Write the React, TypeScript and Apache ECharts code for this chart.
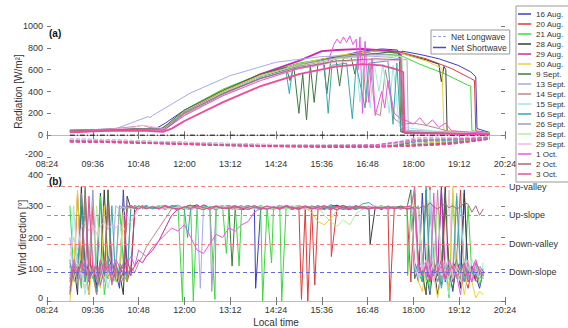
import React, { useEffect, useRef } from 'react';
import * as echarts from 'echarts';

const days = ['16 Aug.', '20 Aug.', '21 Aug.', '28 Aug.', '29 Aug.', '30 Aug.', '9 Sept.', '13 Sept.', '14 Sept.', '15 Sept.', '16 Sept.', '26 Sept.', '28 Sept.', '29 Sept.', '1 Oct.', '2 Oct.', '3 Oct.'];

// Net shortwave radiation [minutes since midnight, W/m2]
const shortwave: number[][][] = [
  [[540,35],[600,45],[650,55],[675,60],[690,110],[720,230],[780,400],[840,540],[900,640],[960,720],[1000,770],[1030,790],[1055,780],[1058,700],[1062,770],[1090,740],[1120,700],[1150,640],[1170,580],[1178,535],[1180,60],[1200,25]],
  [[540,40],[600,50],[650,55],[680,50],[700,120],[720,210],[780,390],[840,530],[900,640],[960,720],[1020,775],[1060,760],[1100,700],[1140,610],[1170,520],[1176,500],[1178,40],[1200,20]],
  [[540,30],[600,45],[660,50],[685,55],[720,230],[780,420],[840,560],[900,660],[960,720],[1020,750],[1060,730],[1090,650],[1130,560],[1165,460],[1170,450],[1172,40],[1200,20]],
  [[540,45],[600,55],[660,60],[690,60],[720,200],[780,380],[840,530],[900,640],[960,720],[1020,770],[1060,750],[1100,690],[1120,650],[1124,490],[1128,630],[1131,600],[1133,20],[1200,10]],
  [[540,30],[600,45],[660,50],[686,50],[720,210],[780,400],[840,560],[900,680],[936,770],[960,780],[1000,790],[1040,775],[1060,760],[1063,30],[1200,10]],
  [[540,40],[600,50],[660,55],[685,55],[720,220],[780,400],[840,550],[900,650],[960,730],[1020,770],[1060,750],[1100,680],[1125,610],[1128,40],[1200,20]],
  [[540,40],[600,50],[660,55],[684,55],[720,230],[780,410],[840,560],[880,620],[886,500],[892,630],[900,200],[906,560],[912,140],[918,640],[924,300],[930,660],[938,700],[944,380],[950,680],[958,700],[964,450],[970,710],[982,720],[988,560],[994,730],[1010,740],[1040,760],[1058,750],[1060,30],[1200,15]],
  [[540,45],[600,55],[615,65],[663,170],[666,160],[670,180],[729,385],[792,545],[864,668],[936,720],[990,730],[1040,715],[1070,690],[1072,30],[1200,15]],
  [[540,40],[600,55],[645,80],[655,90],[665,70],[690,60],[720,190],[780,370],[840,520],[900,630],[960,700],[1000,720],[1006,300],[1012,640],[1020,200],[1028,180],[1036,600],[1050,150],[1062,100],[1080,110],[1100,90],[1120,60],[1140,30],[1200,15]],
  [[540,35],[600,45],[660,50],[690,55],[720,200],[780,380],[840,530],[900,620],[960,680],[990,690],[996,300],[1002,660],[1012,250],[1018,670],[1026,400],[1032,650],[1042,200],[1048,640],[1058,80],[1080,60],[1110,40],[1200,15]],
  [[540,45],[600,50],[660,55],[688,55],[720,210],[780,380],[840,520],[880,580],[885,380],[890,600],[940,650],[946,200],[952,640],[975,660],[984,150],[990,650],[1004,250],[1010,660],[1040,680],[1048,100],[1054,660],[1060,50],[1080,40],[1200,15]],
  [[540,40],[600,50],[660,55],[686,55],[720,210],[780,390],[840,540],[900,650],[960,710],[1020,740],[1060,730],[1066,40],[1200,15]],
  [[540,30],[600,45],[660,50],[688,50],[720,200],[780,390],[840,540],[900,640],[960,700],[1020,730],[1062,720],[1068,35],[1200,15]],
  [[540,35],[600,50],[640,70],[650,90],[660,85],[690,60],[720,180],[780,360],[840,510],[900,610],[960,670],[1020,690],[1060,680],[1064,40],[1200,15]],
  [[540,30],[600,45],[660,50],[688,45],[720,180],[780,360],[840,500],[900,610],[945,660],[955,830],[960,880],[965,840],[970,900],[975,850],[980,910],[985,830],[990,880],[993,600],[996,900],[1000,200],[1004,860],[1010,300],[1015,700],[1020,180],[1030,400],[1035,250],[1040,500],[1050,200],[1060,150],[1070,130],[1080,100],[1090,160],[1100,90],[1110,140],[1120,70],[1130,110],[1140,40],[1200,15]],
  [[540,40],[600,50],[660,55],[690,55],[720,200],[780,380],[840,520],[900,620],[960,680],[1020,700],[1060,690],[1064,30],[1200,10]],
  [[540,25],[600,40],[660,40],[686,30],[700,60],[720,130],[780,300],[840,450],[900,560],[960,630],[1000,650],[1030,640],[1055,600],[1064,577],[1066,20],[1200,5]],
];

// Net longwave radiation
const lwTimes = [540, 600, 660, 720, 780, 840, 900, 960, 1020, 1050, 1080, 1110, 1140, 1170, 1200];
const longwave: number[][] = [
  [-45,-50,-60,-70,-80,-90,-95,-98,-100,-95,-60,-45,-40,-35,-20],
  [-50,-55,-65,-75,-85,-92,-98,-100,-102,-100,-90,-75,-60,-45,-25],
  [-40,-48,-58,-70,-82,-90,-96,-98,-100,-95,-80,-65,-55,-40,-20],
  [-55,-60,-70,-80,-90,-98,-102,-104,-104,-100,-95,-85,-70,-50,-30],
  [-60,-65,-72,-82,-92,-100,-105,-108,-106,-102,-95,-88,-75,-55,-30],
  [-45,-52,-62,-72,-84,-92,-98,-100,-100,-96,-85,-70,-58,-45,-25],
  [-50,-55,-64,-74,-86,-94,-98,-95,-100,-96,-60,-40,-35,-30,-20],
  [-35,-42,-55,-65,-75,-85,-90,-92,-90,-70,-30,-20,-25,-30,-20],
  [-55,-58,-66,-76,-86,-94,-100,-102,-95,-70,-55,-45,-40,-35,-25],
  [-40,-48,-60,-72,-82,-90,-96,-92,-95,-80,-45,-35,-30,-28,-20],
  [-50,-56,-66,-78,-88,-96,-100,-98,-100,-90,-60,-50,-45,-40,-25],
  [-48,-54,-64,-74,-84,-92,-97,-99,-98,-85,-55,-45,-40,-32,-22],
  [-42,-50,-60,-70,-80,-88,-94,-96,-96,-80,-40,-30,-28,-25,-18],
  [-38,-46,-58,-68,-78,-86,-92,-94,-94,-75,-35,-25,-22,-20,-15],
  [-52,-58,-68,-78,-88,-96,-100,-95,-90,-70,-45,-40,-35,-30,-20],
  [-56,-60,-70,-80,-90,-97,-102,-104,-102,-98,-90,-80,-70,-55,-35],
  [-60,-66,-74,-84,-94,-102,-106,-108,-108,-104,-98,-92,-80,-60,-35],
];

const zeroLine = [[540, 0], [1200, 0]];

// Wind direction [deg]
const windTimesMorning = [540,546,552,558,564,570,576,582,588,594,600,606,612,618,624,630,636,642,648,654,660];
const windTimesMidday = [670,680,690,700,710,720,730,740,750,760,770,780,790,800,810,820,830,840,850,860,870,880,890,900,910,920,930,940,950,960,970,980,990,1000,1010,1020,1030,1040,1050,1060,1070];
const windTimesEvening = [1076,1082,1088,1094,1100,1106,1112,1118,1124,1130,1136,1142,1148,1154,1160,1166,1172,1178,1184,1190];

const windMorning: number[][] = [
  [20,110,80,300,60,130,90,50,340,100,70,120,90,40,350,95,80,300,290,295,300],
  [130,60,340,90,110,20,300,80,100,60,350,120,70,90,300,60,110,280,296,300,292],
  [300,90,120,40,350,100,70,130,330,20,110,60,90,300,120,60,300,295,290,300,295],
  [70,120,20,360,90,60,110,40,80,350,100,130,60,90,20,330,290,300,296,290,298],
  [90,110,70,130,100,80,120,60,100,90,140,110,80,120,100,130,90,110,130,120,140],
  [0,100,350,60,90,20,120,80,40,300,70,110,90,60,280,300,295,290,300,296,292],
  [110,60,90,130,300,80,100,20,120,70,350,90,60,110,80,300,292,298,290,296,300],
  [200,90,150,60,110,300,130,80,100,60,120,90,300,290,295,300,292,297,290,295,300],
  [40,130,90,60,320,100,80,20,110,70,130,50,90,100,60,80,110,90,120,140,170],
  [60,300,100,90,20,120,350,80,60,110,40,100,90,300,295,290,300,292,296,290,295],
  [120,70,90,340,60,110,100,30,130,80,90,300,60,120,100,80,300,296,290,300,294],
  [90,110,60,120,100,80,350,60,90,130,110,70,100,300,290,296,300,293,290,297,292],
  [100,60,120,90,40,110,80,300,130,70,100,90,60,120,280,295,290,300,293,297,290],
  [140,200,160,230,250,220,240,210,235,250,225,240,230,245,220,240,250,270,290,296,292],
  [80,120,100,90,130,60,110,100,80,120,90,100,130,110,90,120,140,110,160,150,140],
  [30,100,80,120,360,70,90,110,50,100,300,80,120,60,90,300,296,290,300,294,290],
  [60,110,90,120,80,330,100,70,130,90,110,60,100,90,120,290,300,294,290,297,292],
];

const windMidday: number[][] = [
  [292,298,288,301,295,290,297,303,289,294,299,291,296,300,287,293,297,292,296,290,301,294,288,297,292,299,295,290,303,296,289,294,300,292,297,291,295,298,290,294,296],
  [294,300,289,296,302,291,297,290,303,295,288,296,292,299,290,297,293,300,291,295,289,296,292,295,292,297,288,291,296,291,299,293,290,297,292,296,290,293,294,298,291],
  [293,298,301,290,296,292,295,296,297,292,291,298,290,295,294,293,299,291,296,290,293,297,292,297,291,299,293,288,296,301,292,295,290,298,293,296,291,299,294,290,294],
  [295,290,299,293,287,296,302,291,294,298,290,296,301,292,288,295,299,293,290,297,291,300,294,289,296,293,299,290,295,302,292,288,296,291,298,294,289,297,292,295,290],
  [160,190,230,270,290,296,290,300,294,288,297,292,299,290,295,301,293,288,296,292,299,294,290,297,291,295,300,293,288,296,292,299,294,290,296,292,297,291,295,290,296],
  [297,291,295,300,289,294,298,292,296,290,301,295,289,297,293,299,291,295,288,296,302,293,290,297,292,280,250,240,260,285,296,291,298,293,289,296,292,299,294,290,295],
  [293,298,290,296,301,292,288,295,299,293,290,297,291,295,300,289,294,298,292,296,290,301,295,288,297,292,299,293,290,296,301,292,289,295,298,291,296,290,293,299,295],
  [291,296,300,293,288,297,292,299,294,290,296,301,292,288,295,299,293,290,297,291,295,300,293,289,296,292,299,294,290,297,291,295,300,293,288,296,292,298,294,290,296],
  [200,230,260,290,296,292,300,294,289,296,292,299,293,290,297,291,295,300,293,288,296,292,299,294,290,297,291,295,300,293,288,296,292,298,294,290,296,292,297,291,295],
  [299,292,296,290,301,294,288,297,292,299,293,290,296,300,291,295,289,297,292,299,294,290,296,292,298,293,289,295,300,292,296,290,297,293,299,291,295,290,296,292,298],
  [290,297,292,299,294,288,296,292,300,293,289,296,291,298,294,290,297,293,299,291,295,290,296,301,293,288,296,292,299,294,290,297,292,306,310,295,300,292,297,290,296],
  [296,290,301,294,289,297,292,299,293,290,296,300,292,288,295,299,293,290,297,291,295,300,293,289,296,292,299,294,290,296,292,298,294,290,296,292,297,291,295,290,297],
  [295,300,292,289,296,292,299,293,290,297,291,295,300,293,289,296,292,299,294,290,297,291,295,300,293,289,296,270,250,235,255,240,275,290,296,292,298,293,290,296,292],
  [298,293,289,296,292,299,294,290,297,291,295,300,293,288,296,292,299,294,290,297,291,295,300,293,289,296,292,298,294,290,296,292,297,291,295,300,293,289,296,292,299],
  [170,190,210,230,220,240,200,160,150,180,210,200,230,220,240,250,280,292,290,296,292,299,294,290,297,291,295,300,293,288,296,292,299,294,290,296,292,297,291,295,290],
  [297,292,299,293,290,296,301,292,288,295,299,293,290,297,291,295,300,293,289,296,292,299,294,290,297,291,295,300,293,288,296,292,299,294,290,296,292,297,291,295,290],
  [296,290,300,293,289,296,292,299,294,290,297,291,295,300,293,288,296,292,299,294,290,297,291,295,300,293,289,296,292,298,294,290,296,292,297,291,295,290,296,292,298],
];

// Short drops of the wind direction: [day index, minutes, degrees]
const windSpikes = [
  [2,717,0],[2,734,0],[2,768,5],[2,786,150],[2,806,110],[2,843,0],[2,857,120],[2,873,0],[2,1071,80],
  [0,832,40],
  [1,904,5],[1,914,0],[1,925,50],[1,951,140],[1,1043,0],
  [7,745,40],[11,763,30],[6,795,110],[10,725,200],[3,1012,180],
];

const windEvening: number[][] = [
  [300,110,60,340,90,20,120,80,360,60,100,30,130,90,350,70,110,80,40,95],
  [60,340,100,80,20,360,120,90,50,300,110,70,130,350,80,40,100,60,90,70],
  [290,350,90,60,120,30,300,100,70,130,10,340,90,110,60,300,80,120,50,90],
  [300,290,120,80,350,60,110,20,90,360,70,100,130,40,340,80,110,60,90,100],
  [290,120,90,110,70,100,130,80,350,90,110,60,100,120,80,90,110,70,100,80],
  [295,300,60,30,110,350,80,10,90,120,40,360,70,100,20,90,60,10,30,20],
  [350,70,110,90,20,300,120,60,100,340,80,40,110,90,130,60,100,80,70,90],
  [300,280,100,130,70,320,110,90,60,120,100,80,340,110,70,100,90,120,80,100],
  [300,290,295,120,80,110,60,350,90,100,70,120,90,110,60,80,100,90,110,80],
  [292,300,70,120,90,350,60,110,130,80,20,100,90,300,110,60,130,100,70,120],
  [300,90,120,60,360,100,80,130,40,110,90,70,330,100,60,120,90,80,110,90],
  [296,290,300,110,80,120,90,60,100,130,80,110,70,100,90,120,60,100,80,90],
  [296,300,290,110,60,90,120,300,80,100,70,110,90,60,130,100,80,90,110,70],
  [300,110,70,100,130,90,60,120,80,100,350,70,110,90,100,130,80,60,100,90],
  [290,360,100,80,120,60,340,90,110,70,130,100,80,20,110,90,60,120,100,80],
  [292,298,290,300,294,310,296,290,300,306,294,300,290,296,310,305,280,300,270,290],
  [296,290,120,80,110,60,100,90,130,70,100,110,80,90,120,60,100,130,90,80],
];

const regimeNames = ['Up-valley', 'Up-slope', 'Down-valley', 'Down-slope'];
const regimeValues = [360, 270, 180, 90];

const dayColors = ['#3c3cc8', '#e03a3a', '#3cd83c', '#3a3a3a', '#cc2aa8', '#e6d23a', '#3f7a3f', '#a8a8f0', '#c08888', '#9ee8e8', '#3aa8a8', '#9e9ec0', '#b8e8a0', '#f4b8dc', '#e858e0', '#a86878', '#ee4a9a'];
const regimeColors = ['#f08080', '#999999', '#f08080', '#6666dd'];

const fmt = (v: number) => {
  const h = Math.floor(v / 60);
  const m = Math.round(v % 60);
  return String(h).padStart(2, '0') + ':' + String(m).padStart(2, '0');
};

const zip = (times: number[], vals: number[]) => {
  const n = Math.min(times.length, vals.length);
  const out: number[][] = [];
  for (let i = 0; i < n; i++) out.push([times[i], vals[i]]);
  return out;
};

const FONT = 'Liberation Sans, Arial, sans-serif';

export default function App() {
  const ref = useRef<HTMLDivElement>(null);
  useEffect(() => {
    if (!ref.current) return;
    const chart = echarts.init(ref.current, undefined, { renderer: 'svg' });
    const axisLabel = { fontSize: 9, lineHeight: 9, color: '#333' };
    const tick = { inside: true, length: 4, lineStyle: { color: '#777' } };
    const xBase = (grid: number, pos: string, labels: boolean, line: string, margin: number) => ({
      type: 'value', gridIndex: grid, position: pos, min: 504, max: 1224, interval: 72,
      axisLine: { show: true, lineStyle: { color: line, width: 1 } },
      axisTick: tick,
      axisLabel: labels ? { ...axisLabel, formatter: fmt, margin } : { show: false },
      splitLine: { show: false },
    });
    const series: any[] = [];
    days.forEach((d, i) => {
      const thick = i === 4 || i === 16;
      series.push({
        name: d, type: 'line', xAxisIndex: 0, yAxisIndex: 0, data: shortwave[i], symbol: 'none',
        lineStyle: { color: dayColors[i], width: thick ? 1.8 : 1 }, itemStyle: { color: dayColors[i] }, z: 3,
      });
    });
    days.forEach((d, i) => {
      series.push({
        name: d, type: 'line', xAxisIndex: 0, yAxisIndex: 0, data: zip(lwTimes, longwave[i]), symbol: 'none',
        lineStyle: { color: dayColors[i], width: 1.5, type: [4, 2] }, itemStyle: { color: dayColors[i] }, z: 2,
      });
    });
    series.push({
      name: 'zero', type: 'line', xAxisIndex: 0, yAxisIndex: 0, data: zeroLine, symbol: 'none',
      lineStyle: { color: '#000', width: 1, type: [5, 2, 1, 2] }, z: 1,
    });
    series.push({ name: 'Net Longwave', type: 'line', xAxisIndex: 0, yAxisIndex: 0, data: [], symbol: 'none', lineStyle: { color: '#a0a0f0', width: 1 }, itemStyle: { color: '#a0a0f0' } });
    series.push({ name: 'Net Shortwave', type: 'line', xAxisIndex: 0, yAxisIndex: 0, data: [], symbol: 'none', lineStyle: { color: '#4a4ad0', width: 1 }, itemStyle: { color: '#4a4ad0' } });
    days.forEach((d, i) => {
      const data = [
        ...zip(windTimesMorning, windMorning[i]),
        ...zip(windTimesMidday, windMidday[i]),
        ...zip(windTimesEvening, windEvening[i]),
        ...windSpikes.filter((s) => s[0] === i).map((s) => [s[1], s[2]]),
      ].sort((a, b) => a[0] - b[0]);
      series.push({
        name: d, type: 'line', xAxisIndex: 2, yAxisIndex: 2, data, symbol: 'none',
        lineStyle: { color: dayColors[i], width: 1 }, itemStyle: { color: dayColors[i] }, z: 2,
      });
    });
    series.push({
      name: 'regimes', type: 'line', xAxisIndex: 2, yAxisIndex: 2, data: [], symbol: 'none',
      markLine: {
        silent: true, symbol: 'none', animation: false,
        label: { position: 'end', formatter: '{b}', color: '#333', fontSize: 9, distance: 4 },
        data: regimeValues.map((v, k) => ({ yAxis: v, name: regimeNames[k], lineStyle: { color: regimeColors[k], type: [4, 3], width: 1 } })),
      },
      z: 1,
    });

    const yName = { nameLocation: 'middle', nameMoveOverlap: false, nameTextStyle: { fontSize: 10, color: '#333' } };
    const rich = {
      up: { fontSize: 9, color: '#333', padding: [0, 0, 6, 0] },
      dn: { fontSize: 9, color: '#333', padding: [2, 0, 0, 0] },
    };
    const yLabelA = { ...axisLabel, margin: 4, rich, formatter: (v: number) => (v === -200 ? '{up|' + v + '}' : String(v)) };
    const yLabelB = { ...axisLabel, margin: 4, rich, formatter: (v: number) => (v === 0 ? '{up|0}' : v === 400 ? '{dn|400}' : String(v)) };

    chart.setOption({
      animation: false,
      textStyle: { fontFamily: FONT },
      grid: [
        { left: 47, top: 26, width: 458, height: 131 },
        { left: 47, top: 174, width: 458, height: 132 },
      ],
      xAxis: [
        xBase(0, 'bottom', true, '#666', 2),
        xBase(0, 'top', false, '#bbb', 0),
        { ...xBase(1, 'bottom', true, '#666', 4), name: 'Local time', nameLocation: 'middle', nameGap: 16, nameTextStyle: { fontSize: 10, color: '#333' } },
        xBase(1, 'top', false, '#bbb', 0),
      ],
      yAxis: [
        { type: 'value', gridIndex: 0, position: 'left', min: -200, max: 1000, interval: 200, axisLine: { show: false }, axisTick: { ...tick, show: true }, axisLabel: yLabelA, splitLine: { show: false }, name: 'Radiation [W/m²]', nameGap: 24, ...yName },
        { type: 'value', gridIndex: 0, position: 'right', min: -200, max: 1000, interval: 200, axisLine: { show: false }, axisTick: { ...tick, show: true }, axisLabel: { show: false }, splitLine: { show: false } },
        { type: 'value', gridIndex: 1, position: 'left', min: 0, max: 400, interval: 100, axisLine: { show: false }, axisTick: { ...tick, show: true }, axisLabel: yLabelB, splitLine: { show: false }, name: 'Wind direction [°]', nameGap: 20, ...yName },
        { type: 'value', gridIndex: 1, position: 'right', min: 0, max: 400, interval: 100, axisLine: { show: false }, axisTick: { ...tick, show: true }, axisLabel: { show: false }, splitLine: { show: false } },
      ],
      legend: [
        {
          data: days.map((d) => ({ name: d, icon: 'rect' })), orient: 'vertical', left: 516, top: 6,
          itemWidth: 13, itemHeight: 1.5, itemGap: 2,
          padding: [4, 40, 4, 2], borderColor: '#999', borderWidth: 1, backgroundColor: '#fff',
          textStyle: { fontSize: 8, lineHeight: 8, color: '#333' }, selectedMode: false,
        },
        {
          data: [
            { name: 'Net Longwave', icon: 'path://M0,0h3v1h-3zM5,0h3v1h-3zM10,0h3v1h-3z' },
            { name: 'Net Shortwave', icon: 'rect' },
          ],
          orient: 'vertical', left: 431, top: 30, itemWidth: 13, itemHeight: 1.5, itemGap: 2,
          padding: [2, 3, 2, 2], borderColor: '#999', borderWidth: 1, backgroundColor: '#fff',
          textStyle: { fontSize: 8.5, lineHeight: 9, color: '#333' }, selectedMode: false,
        },
      ],
      graphic: [
        { type: 'text', left: 49, top: 28, style: { text: '(a)', font: 'bold 10px ' + FONT, fill: '#111' } },
        { type: 'text', left: 49, top: 176, style: { text: '(b)', font: 'bold 10px ' + FONT, fill: '#111' } },
      ],
      series,
    });
    return () => chart.dispose();
  }, []);
  return <div ref={ref} style={{ position: 'fixed', left: 0, top: 0, width: 568, height: 328, background: '#fff' }} />;
}
